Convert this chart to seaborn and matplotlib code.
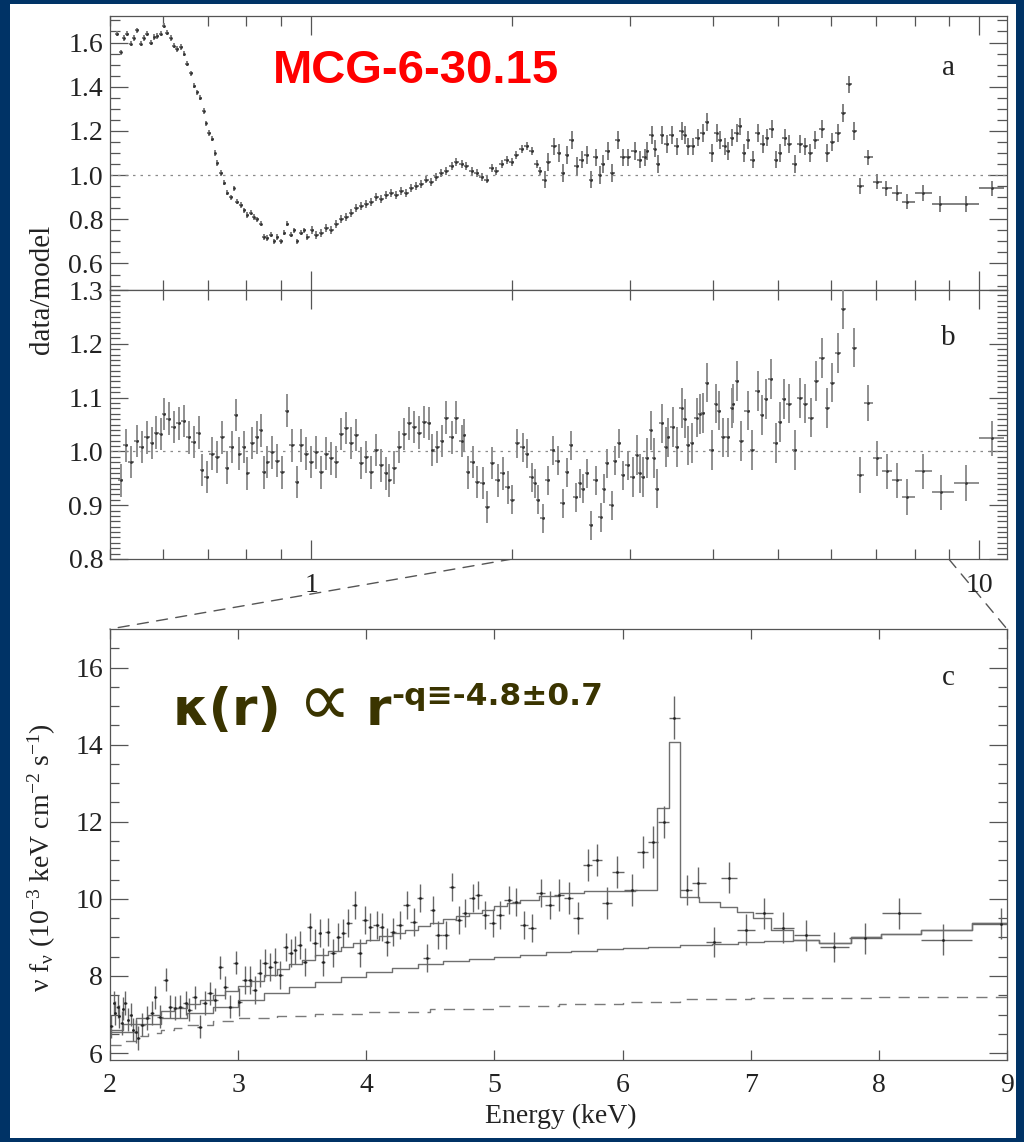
import numpy as np
import pandas as pd
import matplotlib
matplotlib.use("Agg")
import matplotlib.pyplot as plt
from matplotlib.patches import Rectangle, ConnectionPatch
from matplotlib.ticker import FixedLocator, FixedFormatter, NullFormatter
import seaborn as sns

# ---------------- data ----------------
# panel a : data/model ratio vs energy (keV)
EA = [0.512, 0.519, 0.524, 0.530, 0.537, 0.543, 0.548, 0.556, 0.562, 0.568,
      0.576, 0.582, 0.588, 0.596, 0.602, 0.608, 0.617, 0.623, 0.630, 0.639,
      0.645, 0.652, 0.661, 0.668, 0.675, 0.682, 0.691, 0.696, 0.703, 0.711,
      0.718, 0.723, 0.733, 0.741, 0.748, 0.759, 0.767, 0.774, 0.785, 0.794,
      0.802, 0.813, 0.821, 0.830, 0.841, 0.850, 0.859, 0.871, 0.880, 0.889,
      0.902, 0.911, 0.920, 0.933, 0.943, 0.953, 0.966, 0.976, 0.986, 1.003,
      1.017, 1.035, 1.053, 1.072, 1.090, 1.109, 1.128, 1.148, 1.168, 1.189,
      1.209, 1.230, 1.252, 1.273, 1.296, 1.318, 1.341, 1.364, 1.388, 1.412,
      1.437, 1.462, 1.487, 1.513, 1.540, 1.567, 1.594, 1.622, 1.650, 1.679,
      1.708, 1.738, 1.768, 1.799, 1.830, 1.862, 1.894, 1.927, 1.961, 1.995,
      2.029, 2.065, 2.101, 2.137, 2.175, 2.197, 2.235, 2.259, 2.313, 2.353,
      2.378, 2.412, 2.454, 2.497, 2.540, 2.584, 2.620, 2.666, 2.703, 2.731,
      2.779, 2.817, 2.876, 2.926, 2.977, 3.050, 3.103, 3.156, 3.178, 3.234,
      3.268, 3.302, 3.347, 3.405, 3.465, 3.525, 3.586, 3.624, 3.662, 3.725,
      3.790, 3.856, 3.909, 3.977, 4.047, 4.089, 4.161, 4.205, 4.262, 4.336,
      4.381, 4.442, 4.503, 4.582, 4.662, 4.743, 4.809, 4.893, 4.961, 5.030,
      5.118, 5.190, 5.298, 5.390, 5.485, 5.580, 5.677, 5.815, 5.917, 6.020,
      6.146, 6.253, 6.384, 6.496, 6.632, 6.818, 7.032, 7.254, 7.535, 7.800,
      8.245, 8.740, 9.561, 10.45]
RA = [1.64, 1.555, 1.62, 1.64, 1.595, 1.62, 1.655, 1.595, 1.62, 1.64,
      1.60, 1.625, 1.63, 1.64, 1.677, 1.645, 1.62, 1.585, 1.57, 1.58,
      1.55, 1.505, 1.46, 1.405, 1.375, 1.35, 1.29, 1.235, 1.19, 1.165,
      1.10, 1.055, 1.01, 0.965, 0.92, 0.90, 0.94, 0.88, 0.865, 0.84,
      0.82, 0.83, 0.81, 0.80, 0.78, 0.72, 0.715, 0.73, 0.70, 0.72,
      0.70, 0.74, 0.78, 0.73, 0.75, 0.70, 0.74, 0.75, 0.72, 0.75,
      0.73, 0.74, 0.76, 0.75, 0.78, 0.80, 0.81, 0.83, 0.85, 0.86,
      0.87, 0.88, 0.90, 0.89, 0.91, 0.92, 0.91, 0.93, 0.92, 0.94,
      0.95, 0.96, 0.98, 0.97, 0.99, 1.01, 1.02, 1.04, 1.06, 1.05,
      1.04, 1.02, 1.01, 0.99, 0.98, 1.03, 1.02, 1.05, 1.07, 1.06,
      1.09, 1.12, 1.13, 1.11, 1.05, 1.02, 0.98, 1.06, 1.13, 1.10,
      1.01, 1.09, 1.16, 1.04, 1.07, 1.09, 0.98, 1.08, 1.00, 1.05,
      1.11, 1.01, 1.16, 1.08, 1.08, 1.11, 1.07, 1.08, 1.11, 1.18,
      1.12, 1.05, 1.18, 1.14, 1.18, 1.13, 1.20, 1.18, 1.13, 1.13,
      1.17, 1.19, 1.24, 1.10, 1.19, 1.16, 1.13, 1.11, 1.17, 1.19,
      1.22, 1.10, 1.16, 1.07, 1.19, 1.14, 1.17, 1.21, 1.07, 1.10,
      1.17, 1.14, 1.05, 1.14, 1.13, 1.10, 1.16, 1.21, 1.10, 1.15,
      1.19, 1.28, 1.41, 1.20, 0.95, 1.08, 0.97, 0.94, 0.92, 0.88,
      0.92, 0.87, 0.87, 0.94]
ERR_A_EDGES = [1.0, 2.2, 6.6]
ERR_A_VALUES = [0.012, 0.018, 0.040, 0.035]

# panel b : data/model ratio vs energy (keV)
EB = [0.519, 0.528, 0.537, 0.548, 0.558, 0.568, 0.578, 0.586, 0.596, 0.602,
      0.612, 0.623, 0.634, 0.645, 0.656, 0.668, 0.679, 0.686, 0.698, 0.711,
      0.723, 0.736, 0.748, 0.761, 0.772, 0.780, 0.794, 0.802, 0.816, 0.830,
      0.841, 0.850, 0.859, 0.874, 0.889, 0.905, 0.920, 0.936, 0.953, 0.966,
      0.983, 1.000, 1.017, 1.035, 1.053, 1.072, 1.090, 1.109, 1.128, 1.148,
      1.168, 1.189, 1.209, 1.230, 1.252, 1.273, 1.296, 1.309, 1.332, 1.355,
      1.379, 1.403, 1.427, 1.452, 1.477, 1.503, 1.518, 1.545, 1.572, 1.594,
      1.622, 1.650, 1.679, 1.696, 1.714, 1.744, 1.774, 1.805, 1.836, 1.868,
      1.901, 1.934, 1.968, 2.001, 2.036, 2.072, 2.101, 2.137, 2.160, 2.182,
      2.220, 2.259, 2.298, 2.338, 2.378, 2.412, 2.446, 2.488, 2.523, 2.549,
      2.584, 2.620, 2.666, 2.712, 2.740, 2.769, 2.817, 2.846, 2.886, 2.926,
      2.977, 3.029, 3.071, 3.103, 3.135, 3.178, 3.223, 3.256, 3.290, 3.347,
      3.393, 3.417, 3.477, 3.525, 3.586, 3.624, 3.662, 3.712, 3.777, 3.816,
      3.856, 3.909, 3.977, 4.034, 4.076, 4.133, 4.205, 4.262, 4.278, 4.336,
      4.396, 4.503, 4.566, 4.662, 4.727, 4.793, 4.876, 4.961, 5.030, 5.100,
      5.190, 5.298, 5.390, 5.485, 5.599, 5.696, 5.815, 5.917, 6.020, 6.146,
      6.253, 6.384, 6.496, 6.632, 6.818, 7.032, 7.279, 7.535, 7.800, 8.245,
      8.770, 9.561, 10.45]
RB = [0.946, 1.011, 0.980, 1.020, 1.008, 1.026, 1.015, 1.035, 1.033, 1.070,
      1.061, 1.045, 1.052, 1.057, 1.026, 1.017, 1.035, 0.965, 0.952, 0.996,
      0.989, 1.026, 0.970, 1.008, 1.067, 0.996, 1.008, 0.959, 1.015, 1.026,
      1.039, 0.961, 0.980, 0.998, 0.983, 0.961, 1.076, 1.011, 0.943, 1.011,
      0.996, 0.980, 0.998, 0.961, 0.996, 0.987, 0.980, 1.033, 1.043, 1.015,
      1.030, 0.978, 0.989, 0.961, 1.002, 0.974, 0.959, 0.946, 0.970, 1.008,
      1.033, 1.052, 1.045, 1.035, 1.054, 1.052, 1.002, 1.008, 1.020, 1.063,
      1.026, 1.063, 1.020, 1.030, 0.961, 0.980, 0.943, 0.941, 0.896, 0.978,
      0.946, 0.959, 0.933, 0.910, 1.015, 1.008, 0.996, 0.952, 0.941, 0.910,
      0.876, 0.946, 1.002, 0.983, 0.904, 0.961, 1.011, 0.915, 0.941, 0.931,
      0.959, 0.863, 0.946, 0.878, 0.931, 0.978, 0.900, 0.983, 1.015, 0.956,
      0.974, 0.952, 0.993, 0.959, 0.952, 0.987, 1.039, 0.987, 0.931, 1.052,
      1.008, 1.026, 1.045, 1.008, 1.080, 1.061, 1.011, 1.015, 1.063, 1.070,
      1.072, 1.128, 1.002, 1.089, 1.076, 1.026, 1.026, 1.080, 1.089, 1.131,
      1.020, 1.076, 1.002, 1.113, 1.067, 1.098, 1.135, 1.015, 1.054, 1.098,
      1.089, 1.002, 1.100, 1.089, 1.063, 1.131, 1.174, 1.080, 1.128, 1.183,
      1.265, 1.340, 1.193, 0.956, 1.090, 0.987, 0.963, 0.946, 0.915, 0.963,
      0.924, 0.941, 1.024]
ERR_B_EDGES = [2.0, 3.0, 6.6]
ERR_B_VALUES = [0.030, 0.027, 0.037, 0.033]

# panel c : nu f_nu (1e-3 keV cm^-2 s^-1) vs energy (keV)
EC = [2.01, 2.03, 2.04, 2.06, 2.07, 2.09, 2.10, 2.12, 2.14, 2.16,
      2.18, 2.20, 2.22, 2.25, 2.29, 2.33, 2.35, 2.39, 2.44, 2.47,
      2.51, 2.55, 2.59, 2.62, 2.66, 2.70, 2.74, 2.78, 2.82, 2.86,
      2.90, 2.94, 2.98, 3.01, 3.05, 3.09, 3.13, 3.17, 3.21, 3.25,
      3.29, 3.33, 3.37, 3.41, 3.44, 3.48, 3.52, 3.56, 3.60, 3.64,
      3.66, 3.70, 3.74, 3.78, 3.82, 3.86, 3.91, 3.95, 3.99, 4.03,
      4.08, 4.12, 4.16, 4.21, 4.26, 4.32, 4.37, 4.42, 4.47, 4.52,
      4.56, 4.62, 4.67, 4.72, 4.77, 4.83, 4.87, 4.93, 4.99, 5.04,
      5.11, 5.17, 5.23, 5.29, 5.36, 5.43, 5.50, 5.58, 5.65, 5.73,
      5.80, 5.88, 5.96, 6.07, 6.16, 6.24, 6.32, 6.40, 6.50, 6.59,
      6.71, 6.83, 6.96, 7.10, 7.25, 7.43, 7.65, 7.89, 8.16, 8.50,
      8.95]
FC = [6.70, 7.30, 7.04, 7.20, 6.95, 6.78, 7.15, 7.30, 6.86, 7.00,
      6.60, 6.55, 6.39, 6.73, 6.91, 7.04, 7.45, 6.94, 7.90, 7.20,
      7.17, 7.20, 7.30, 7.12, 7.45, 6.68, 7.30, 7.55, 7.38, 8.23,
      7.71, 7.20, 8.34, 7.33, 7.90, 7.90, 7.64, 8.08, 8.34, 8.23,
      8.36, 8.03, 8.75, 8.60, 8.68, 8.81, 8.36, 9.27, 8.86, 9.12,
      8.36, 9.14, 8.60, 9.01, 9.12, 9.38, 9.84, 8.60, 9.45, 9.27,
      9.32, 9.27, 8.88, 9.14, 9.32, 9.84, 9.40, 10.03, 8.47, 9.71,
      9.06, 9.06, 10.30, 9.45, 9.63, 10.03, 10.10, 9.58, 9.38, 9.58,
      9.97, 9.92, 9.32, 9.25, 10.16, 9.84, 10.10, 10.03, 9.50, 10.88,
      11.01, 9.90, 10.70, 10.23, 11.22, 11.48, 12.00, 14.70, 10.23, 10.42,
      8.88, 10.55, 9.20, 9.63, 9.25, 9.06, 8.75, 8.98, 9.63, 8.94,
      9.35]
ERR_C_EDGES = [3.0, 5.5, 6.36, 6.45]
ERR_C_VALUES = [0.30, 0.36, 0.42, 0.56, 0.40]

# models in panel c (left bin edges, step histograms)
MOD_TOT_E = [2.0, 2.1, 2.2, 2.3, 2.4, 2.5, 2.6, 2.7, 2.8, 2.9,
             3.0, 3.1, 3.2, 3.3, 3.4, 3.5, 3.6, 3.7, 3.8, 3.9,
             4.0, 4.1, 4.2, 4.3, 4.4, 4.5, 4.6, 4.7, 4.8, 4.9,
             5.0, 5.1, 5.2, 5.35, 5.5, 5.7, 5.9, 6.1, 6.27, 6.36,
             6.45, 6.6, 6.76, 6.89, 7.02, 7.16, 7.33, 7.53, 7.78, 8.02,
             8.33, 8.73, 9.0]
MOD_TOT_V = [6.60, 6.75, 6.90, 7.00, 7.08, 7.17, 7.27, 7.38, 7.50, 7.62,
             7.75, 7.88, 8.02, 8.17, 8.30, 8.42, 8.55, 8.65, 8.75, 8.85,
             8.94, 9.03, 9.12, 9.20, 9.30, 9.38, 9.47, 9.56, 9.64, 9.72,
             9.82, 9.90, 9.98, 10.08, 10.15, 10.20, 10.20, 10.22, 12.36, 14.08,
             10.05, 9.92, 9.80, 9.66, 9.50, 9.20, 8.94, 8.86, 9.01, 9.10,
             9.20, 9.38, 9.38]
MOD_CONT_E = [2.0, 2.2, 2.4, 2.6, 2.8, 3.0, 3.2, 3.4, 3.6, 3.8,
              4.0, 4.2, 4.4, 4.6, 4.8, 5.0, 5.2, 5.4, 5.6, 5.8,
              6.0, 6.2, 6.45, 6.7, 6.9, 7.1, 7.33, 7.53, 7.78, 8.02,
              8.33, 8.73, 9.0]
MOD_CONT_V = [6.55, 6.75, 6.92, 7.05, 7.20, 7.38, 7.55, 7.72, 7.85, 7.98,
              8.10, 8.20, 8.30, 8.38, 8.45, 8.50, 8.55, 8.62, 8.66, 8.70,
              8.73, 8.76, 8.80, 8.84, 8.87, 8.90, 8.94, 8.86, 9.01, 9.10,
              9.20, 9.38, 9.38]
MOD_DASH_E = [2.0, 2.1, 2.2, 2.3, 2.4, 2.5, 2.6, 2.8, 3.0, 3.3,
              3.6, 4.0, 4.5, 5.0, 5.5, 6.0, 6.45, 7.0, 8.0, 9.0]
MOD_DASH_V = [6.20, 6.32, 6.45, 6.53, 6.60, 6.66, 6.72, 6.82, 6.90, 6.97,
              7.02, 7.07, 7.15, 7.22, 7.28, 7.32, 7.40, 7.43, 7.45, 7.47]

# axis ticks / labels
AB_XMAJOR = [1, 10]
AB_XMAJOR_LABELS = ["1", "10"]
AB_XMINOR = [0.5, 0.6, 0.7, 0.8, 0.9, 2, 3, 4, 5, 6, 7, 8, 9]
A_YTICKS = [0.6, 0.8, 1.0, 1.2, 1.4, 1.6]
B_YTICKS = [0.8, 0.9, 1.0, 1.1, 1.2, 1.3]
C_XTICKS = [2, 3, 4, 5, 6, 7, 8, 9]
C_YTICKS = [6, 8, 10, 12, 14, 16]

# ---------------- style ----------------
sns.set_style("ticks")
plt.rcParams["font.family"] = ["Liberation Serif", "DejaVu Serif"]
plt.rcParams["mathtext.fontset"] = "custom"
plt.rcParams["mathtext.rm"] = "Liberation Serif"
plt.rcParams["mathtext.it"] = "Liberation Serif:italic"
plt.rcParams["mathtext.bf"] = "Liberation Serif:bold"
plt.rcParams["axes.linewidth"] = 0.9
plt.rcParams["axes.edgecolor"] = "#555555"

NAVY = "#003366"
W, H = 1024, 1142
fig = plt.figure(figsize=(W / 100, H / 100), dpi=100, facecolor=NAVY)
fig.patches.append(Rectangle((10 / W, 4 / H), 1006 / W, 1134 / H,
                             transform=fig.transFigure, facecolor="white",
                             edgecolor="none", zorder=-10))


def rect(l, t, r, b):
    return [l / W, 1 - b / H, (r - l) / W, (b - t) / H]


ax_a = fig.add_axes(rect(110, 16, 1007, 290))
ax_b = fig.add_axes(rect(110, 290, 1007, 559))
ax_c = fig.add_axes(rect(110, 629, 1007, 1060))


def log_halfwidths(E):
    E = np.asarray(E, float)
    edges = np.sqrt(E[1:] * E[:-1])
    lo = np.empty_like(E)
    hi = np.empty_like(E)
    lo[1:] = E[1:] - edges
    hi[:-1] = edges - E[:-1]
    lo[0] = hi[0]
    hi[-1] = lo[-1]
    return lo, hi


def lin_halfwidths(E):
    E = np.asarray(E, float)
    edges = 0.5 * (E[1:] + E[:-1])
    lo = np.empty_like(E)
    hi = np.empty_like(E)
    lo[1:] = E[1:] - edges
    hi[:-1] = edges - E[:-1]
    lo[0] = hi[0]
    hi[-1] = lo[-1]
    return lo, hi


def errs(E, edges, values):
    return np.asarray(values)[np.digitize(E, edges)]


def draw_ratio(ax, E, R, edges, values, ecol):
    df = pd.DataFrame({"E": E, "R": R})
    lo, hi = log_halfwidths(E)
    ax.errorbar(df["E"], df["R"], yerr=errs(df["E"], edges, values),
                xerr=[lo, hi], fmt="none", ecolor=ecol, elinewidth=1.4,
                capsize=0, zorder=3)
    sns.scatterplot(data=df, x="E", y="R", ax=ax, s=4, color="#333333",
                    linewidth=0, zorder=4, legend=False)
    ax.axhline(1.0, color="#8a8a8a", lw=0.9, ls=(0, (2.0, 4.0)), zorder=1)


draw_ratio(ax_a, EA, RA, ERR_A_EDGES, ERR_A_VALUES, "#808080")
draw_ratio(ax_b, EB, RB, ERR_B_EDGES, ERR_B_VALUES, "#8f8f8f")

for ax in (ax_a, ax_b):
    ax.set_xscale("log")
    ax.set_xlim(0.5, 11.0)
    ax.xaxis.set_major_locator(FixedLocator(AB_XMAJOR))
    ax.xaxis.set_minor_locator(FixedLocator(AB_XMINOR))
    ax.xaxis.set_minor_formatter(NullFormatter())
    ax.tick_params(which="both", direction="in", top=True, right=True,
                   color="#555555", width=0.9, labelcolor="#222222")
    ax.tick_params(axis="x", which="major", length=14, labelsize=20, pad=10)
    ax.tick_params(axis="x", which="minor", length=7)
    ax.tick_params(axis="y", which="major", length=13, labelsize=20, pad=5)
    ax.tick_params(axis="y", which="minor", length=7)
    ax.set_xlabel("")
    ax.set_ylabel("")

ax_a.set_ylim(0.48, 1.72)
ax_a.yaxis.set_major_locator(FixedLocator(A_YTICKS))
ax_a.yaxis.set_major_formatter(FixedFormatter([f"{v:.1f}" for v in A_YTICKS]))
ax_a.yaxis.set_minor_locator(FixedLocator(np.arange(0.50, 1.72, 0.05)))
ax_a.tick_params(axis="x", labelbottom=False)

ax_b.set_ylim(0.8, 1.3)
ax_b.yaxis.set_major_locator(FixedLocator(B_YTICKS))
ax_b.yaxis.set_major_formatter(FixedFormatter([f"{v:.1f}" for v in B_YTICKS]))
ax_b.yaxis.set_minor_locator(FixedLocator(np.arange(0.80, 1.30, 0.01)))
ax_b.xaxis.set_major_formatter(FixedFormatter(AB_XMAJOR_LABELS))

ax_a.set_ylabel("data/model", fontsize=21, va="center", color="#222222")
ax_a.yaxis.set_label_coords(-0.0758, 0.004)

# ---------------- panel c ----------------
dfc = pd.DataFrame({"E": EC, "F": FC})
clo, chi = lin_halfwidths(EC)
ax_c.errorbar(dfc["E"], dfc["F"], yerr=errs(dfc["E"], ERR_C_EDGES, ERR_C_VALUES),
              xerr=[clo, chi], fmt="none", ecolor="#666666", elinewidth=1.0,
              capsize=0, zorder=3)
sns.scatterplot(data=dfc, x="E", y="F", ax=ax_c, s=4, color="#222222",
                linewidth=0, zorder=4, legend=False)
sns.lineplot(x=MOD_CONT_E, y=MOD_CONT_V, ax=ax_c, drawstyle="steps-post",
             color="#6f6f6f", lw=1.0, zorder=2)
sns.lineplot(x=MOD_TOT_E, y=MOD_TOT_V, ax=ax_c, drawstyle="steps-post",
             color="#6f6f6f", lw=1.0, zorder=2)
sns.lineplot(x=MOD_DASH_E, y=MOD_DASH_V, ax=ax_c, drawstyle="steps-post",
             color="#7a7a7a", lw=1.0, zorder=2)
ax_c.lines[-1].set_linestyle((0, (8, 6)))

ax_c.set_xlim(2, 9)
ax_c.set_ylim(5.82, 17.0)
ax_c.xaxis.set_major_locator(FixedLocator(C_XTICKS))
ax_c.xaxis.set_major_formatter(FixedFormatter([str(v) for v in C_XTICKS]))
ax_c.yaxis.set_major_locator(FixedLocator(C_YTICKS))
ax_c.yaxis.set_major_formatter(FixedFormatter([str(v) for v in C_YTICKS]))
ax_c.yaxis.set_minor_locator(FixedLocator(np.arange(6.0, 17.0, 0.5)))
ax_c.tick_params(which="both", direction="in", top=True, right=True,
                 color="#555555", width=0.9, labelcolor="#222222")
ax_c.tick_params(axis="x", which="major", length=7, labelsize=20, pad=9)
ax_c.tick_params(axis="y", which="major", length=13, labelsize=20, pad=5)
ax_c.tick_params(axis="y", which="minor", length=6.5)
ax_c.set_xlabel("Energy (keV)", fontsize=20, va="center", color="#222222")
ax_c.xaxis.set_label_coords(0.502, -0.132)
ax_c.set_ylabel(r"ν f$_{\mathrm{\nu}}$ (10$^{-3}$ keV cm$^{-2}$ s$^{-1}$)",
                fontsize=20, va="center", color="#222222")
ax_c.yaxis.set_label_coords(-0.0758, 0.469)

for ax in (ax_a, ax_b, ax_c):
    for sp in ax.spines.values():
        sp.set_color("#555555")
        sp.set_linewidth(0.9)

# panel letters
ax_a.text(0.935, 0.785, "a", transform=ax_a.transAxes, fontsize=21,
          ha="center", va="baseline", color="#222222")
ax_b.text(0.935, 0.796, "b", transform=ax_b.transAxes, fontsize=21,
          ha="center", va="baseline", color="#222222")
ax_c.text(0.935, 0.870, "c", transform=ax_c.transAxes, fontsize=21,
          ha="center", va="baseline", color="#222222")

# annotations
ax_a.text(0.1817, 0.755, "MCG-6-30.15", transform=ax_a.transAxes,
          color="#ff0000", fontsize=34, fontweight="bold",
          family=["Liberation Sans", "DejaVu Sans"], ha="left", va="baseline")
OLIVE = "#3a3400"
BASE_Y = 0.777
t1 = ax_c.text(0.0702, BASE_Y, "κ(r)", transform=ax_c.transAxes,
               color=OLIVE, fontsize=37, fontweight="bold",
               family=["DejaVu Sans"], ha="left", va="baseline")
t2 = ax_c.annotate("∝", xy=(1.0, BASE_Y), xycoords=(t1, ax_c.transAxes),
                   xytext=(12, 0), textcoords="offset points", color=OLIVE,
                   fontsize=54, fontweight="normal", family=["DejaVu Sans"],
                   ha="left", va="baseline")
t3 = ax_c.annotate("r", xy=(1.0, BASE_Y), xycoords=(t2, ax_c.transAxes),
                   xytext=(10, 0), textcoords="offset points", color=OLIVE,
                   fontsize=37, fontweight="bold", family=["DejaVu Sans"],
                   ha="left", va="baseline")
ax_c.annotate("-q≡-4.8±0.7", xy=(1.0, 0.8237), xycoords=(t3, ax_c.transAxes),
              xytext=(0, 0), textcoords="offset points", color=OLIVE,
              fontsize=22.5, fontweight="bold", family=["DejaVu Sans"],
              ha="left", va="baseline")

# zoom connectors between panel b and panel c
for xe in (2.0, 9.0):
    cp = ConnectionPatch(xyA=(xe, 0.8), coordsA=ax_b.transData,
                         xyB=(xe, 17.0), coordsB=ax_c.transData,
                         color="#555555", lw=1.0, ls=(0, (8, 6)), zorder=-5)
    fig.add_artist(cp)

fig.savefig("out.png", dpi=100, facecolor=NAVY)
